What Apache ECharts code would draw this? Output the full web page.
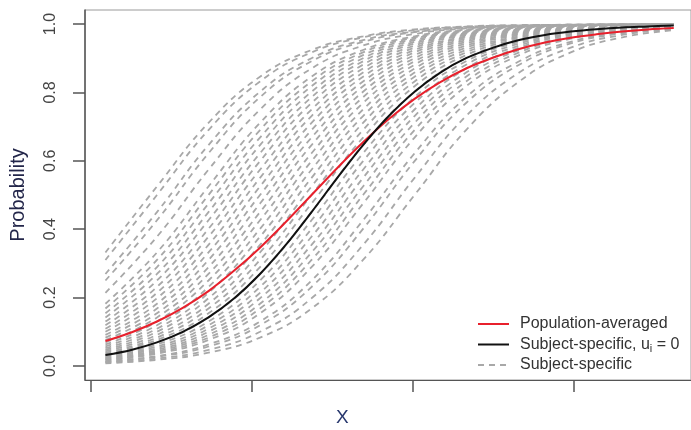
<!DOCTYPE html>
<html>
<head>
<meta charset="utf-8">
<script src="https://cdn.jsdelivr.net/npm/echarts@6/dist/echarts.min.js"></script>
<style>
  html, body { margin: 0; padding: 0; background: #fff; }
  #chart { width: 691px; height: 430px; }
</style>
</head>
<body>
<div id="chart"></div>
<script>
// x positions where the curves were read (axis units, ticks at 0,1,2,3)
const xValues = [0.09, 0.41, 0.73, 1.05, 1.37, 1.69, 2.01, 2.33, 2.66, 2.98, 3.30, 3.62];
const xFine = [0.09, 0.25, 0.41, 0.57, 0.73, 0.89, 1.05, 1.21, 1.37, 1.53, 1.69, 1.85,
  2.01, 2.17, 2.33, 2.50, 2.66, 2.82, 2.98, 3.14, 3.30, 3.46, 3.62];
const xTicks = [0, 1, 2, 3];
const yTicks = [0, 0.2, 0.4, 0.6, 0.8, 1.0];

const populationAveraged = [0.073, 0.098, 0.130, 0.170, 0.219, 0.279, 0.346, 0.421, 0.500, 0.579, 0.654, 0.722,
  0.781, 0.830, 0.870, 0.902, 0.927, 0.946, 0.960, 0.970, 0.978, 0.984, 0.988];
const subjectZero = [0.032, 0.047, 0.069, 0.100, 0.142, 0.198, 0.269, 0.354, 0.450, 0.550, 0.646, 0.731,
  0.802, 0.858, 0.900, 0.931, 0.953, 0.968, 0.978, 0.985, 0.990, 0.993, 0.996];

// grey dashed subject-specific curves, one row per subject (at xValues)
const subjectCurves = [
  [0.332, 0.525, 0.711, 0.846, 0.924, 0.964, 0.984, 0.993, 0.997, 0.998, 0.999, 0.999],
  [0.310, 0.500, 0.690, 0.832, 0.917, 0.961, 0.982, 0.992, 0.996, 0.998, 0.999, 0.999],
  [0.269, 0.450, 0.646, 0.802, 0.900, 0.953, 0.978, 0.990, 0.996, 0.998, 0.999, 0.999],
  [0.250, 0.426, 0.622, 0.786, 0.891, 0.948, 0.976, 0.989, 0.995, 0.998, 0.999, 0.999],
  [0.214, 0.378, 0.574, 0.750, 0.870, 0.937, 0.971, 0.987, 0.994, 0.997, 0.999, 0.999],
  [0.182, 0.332, 0.525, 0.711, 0.846, 0.924, 0.964, 0.984, 0.993, 0.997, 0.998, 0.999],
  [0.168, 0.310, 0.500, 0.690, 0.832, 0.917, 0.961, 0.982, 0.992, 0.996, 0.998, 0.999],
  [0.154, 0.289, 0.475, 0.668, 0.818, 0.909, 0.957, 0.980, 0.991, 0.996, 0.998, 0.999],
  [0.142, 0.269, 0.450, 0.646, 0.802, 0.900, 0.953, 0.978, 0.990, 0.996, 0.998, 0.999],
  [0.130, 0.250, 0.426, 0.622, 0.786, 0.891, 0.948, 0.976, 0.989, 0.995, 0.998, 0.999],
  [0.119, 0.231, 0.401, 0.599, 0.769, 0.881, 0.943, 0.973, 0.988, 0.995, 0.998, 0.999],
  [0.109, 0.214, 0.378, 0.574, 0.750, 0.870, 0.937, 0.971, 0.987, 0.994, 0.997, 0.999],
  [0.100, 0.198, 0.354, 0.550, 0.731, 0.858, 0.931, 0.968, 0.985, 0.993, 0.997, 0.999],
  [0.091, 0.182, 0.332, 0.525, 0.711, 0.846, 0.924, 0.964, 0.984, 0.993, 0.997, 0.998],
  [0.083, 0.168, 0.310, 0.500, 0.690, 0.832, 0.917, 0.961, 0.982, 0.992, 0.996, 0.998],
  [0.076, 0.154, 0.289, 0.475, 0.668, 0.818, 0.909, 0.957, 0.980, 0.991, 0.996, 0.998],
  [0.069, 0.142, 0.269, 0.450, 0.646, 0.802, 0.900, 0.953, 0.978, 0.990, 0.996, 0.998],
  [0.063, 0.130, 0.250, 0.426, 0.622, 0.786, 0.891, 0.948, 0.976, 0.989, 0.995, 0.998],
  [0.057, 0.119, 0.231, 0.401, 0.599, 0.769, 0.881, 0.943, 0.973, 0.988, 0.995, 0.998],
  [0.052, 0.109, 0.214, 0.378, 0.574, 0.750, 0.870, 0.937, 0.971, 0.987, 0.994, 0.997],
  [0.047, 0.100, 0.198, 0.354, 0.550, 0.731, 0.858, 0.931, 0.968, 0.985, 0.993, 0.997],
  [0.043, 0.091, 0.182, 0.332, 0.525, 0.711, 0.846, 0.924, 0.964, 0.984, 0.993, 0.997],
  [0.039, 0.083, 0.168, 0.310, 0.500, 0.690, 0.832, 0.917, 0.961, 0.982, 0.992, 0.996],
  [0.036, 0.076, 0.154, 0.289, 0.475, 0.668, 0.818, 0.909, 0.957, 0.980, 0.991, 0.996],
  [0.032, 0.069, 0.142, 0.269, 0.450, 0.646, 0.802, 0.900, 0.953, 0.978, 0.990, 0.996],
  [0.029, 0.063, 0.130, 0.250, 0.426, 0.622, 0.786, 0.891, 0.948, 0.976, 0.989, 0.995],
  [0.027, 0.057, 0.119, 0.231, 0.401, 0.599, 0.769, 0.881, 0.943, 0.973, 0.988, 0.995],
  [0.024, 0.052, 0.109, 0.214, 0.378, 0.574, 0.750, 0.870, 0.937, 0.971, 0.987, 0.994],
  [0.022, 0.047, 0.100, 0.198, 0.354, 0.550, 0.731, 0.858, 0.931, 0.968, 0.985, 0.993],
  [0.020, 0.043, 0.091, 0.182, 0.332, 0.525, 0.711, 0.846, 0.924, 0.964, 0.984, 0.993],
  [0.018, 0.039, 0.083, 0.168, 0.310, 0.500, 0.690, 0.832, 0.917, 0.961, 0.982, 0.992],
  [0.016, 0.036, 0.076, 0.154, 0.289, 0.475, 0.668, 0.818, 0.909, 0.957, 0.980, 0.991],
  [0.013, 0.029, 0.063, 0.130, 0.250, 0.426, 0.622, 0.786, 0.891, 0.948, 0.976, 0.989],
  [0.012, 0.027, 0.057, 0.119, 0.231, 0.401, 0.599, 0.769, 0.881, 0.943, 0.973, 0.988],
  [0.010, 0.022, 0.047, 0.100, 0.198, 0.354, 0.550, 0.731, 0.858, 0.931, 0.968, 0.985],
  [0.008, 0.018, 0.039, 0.083, 0.168, 0.310, 0.500, 0.690, 0.832, 0.917, 0.961, 0.982]
];

const NAME_PA = 'Population-averaged';
const NAME_SS0 = 'Subject-specific, ui = 0';
const NAME_SS = 'Subject-specific';

const FONT = '"Liberation Sans", Arial, sans-serif';
const toPairs = (xs, ys) => ys.map((y, i) => [xs[i], y]);

const chart = echarts.init(document.getElementById('chart'));

let series = subjectCurves.map(curve => ({
  name: NAME_SS,
  type: 'line',
  data: toPairs(xValues, curve),
  smooth: 0.45,
  symbol: 'none',
  silent: true,
  color: '#a8a8a8',
  lineStyle: { color: '#a8a8a8', width: 1.8, type: [6, 5] },
  z: 2
}))

series.push({
  name: NAME_PA,
  type: 'line',
  data: toPairs(xFine, populationAveraged),
  smooth: 0.35,
  symbol: 'none',
  silent: true,
  color: '#e8202c',
  lineStyle: { color: '#e8202c', width: 2 },
  z: 3
})
series.push({
  name: NAME_SS0,
  type: 'line',
  data: toPairs(xFine, subjectZero),
  smooth: 0.35,
  symbol: 'none',
  silent: true,
  color: '#111111',
  lineStyle: { color: '#111111', width: 2 },
  z: 4
})

const option = {
  animation: false,
  backgroundColor: '#ffffff',
  textStyle: { fontFamily: FONT },
  grid: {
    left: 85, right: 0, top: 10, bottom: 50,
    show: true,
    borderColor: '#9a9a9a',
    borderWidth: 1
  },
  xAxis: {
    type: 'value',
    min: -0.037,
    max: 3.727,
    axisLine: { show: true, onZero: false, lineStyle: { color: '#555', width: 1 } },
    axisTick: { show: true, customValues: xTicks, length: 12, lineStyle: { color: '#555', width: 1.5 } },
    axisLabel: { show: false },
    splitLine: { show: false }
  },
  yAxis: {
    type: 'value',
    min: -0.041,
    max: 1.041,
    name: 'Probability',
    nameLocation: 'middle',
    nameGap: 57,
    nameRotate: 90,
    nameTextStyle: { fontSize: 20, color: '#23264a', fontFamily: FONT },
    axisLine: { show: true, onZero: false, lineStyle: { color: '#555', width: 1.5 } },
    axisTick: { show: true, customValues: yTicks, length: 12, lineStyle: { color: '#555', width: 1.5 } },
    axisLabel: {
      customValues: yTicks,
      rotate: 90,
      margin: 26,
      fontSize: 16,
      color: '#444',
      fontFamily: FONT,
      formatter: v => v.toFixed(1)
    },
    splitLine: { show: false }
  },
  legend: {
    orient: 'vertical',
    left: 472,
    top: 309,
    itemWidth: 31,
    itemHeight: 14,
    itemGap: 0.5,
    selectedMode: false,
    itemStyle: { opacity: 0 },
    data: [NAME_PA, NAME_SS0, NAME_SS],
    formatter: name => {
      if (name === NAME_SS0) return '{g| }Subject-specific, u{sub|i} = 0';
      return '{g| }' + name;
    },
    textStyle: {
      fontSize: 16,
      lineHeight: 20,
      color: '#333',
      fontFamily: FONT,
      rich: {
        g: { width: 6, fontSize: 16, lineHeight: 20 },
        sub: { fontSize: 11, lineHeight: 20, padding: [8, 0, 0, 0], color: '#333', fontFamily: FONT }
      }
    }
  },
  graphic: [{
    type: 'text',
    left: 336,
    top: 408,
    style: { text: 'X', fontSize: 19, fill: '#28386e', fontFamily: FONT }
  }],
  series: series
}

chart.setOption(option);
</script>
</body>
</html>
